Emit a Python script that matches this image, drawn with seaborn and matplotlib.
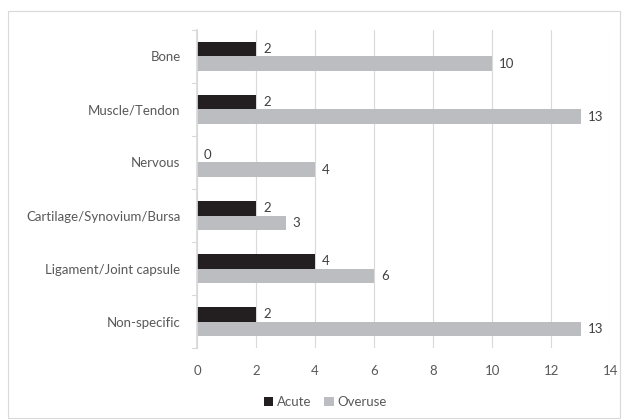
import numpy as np
import pandas as pd
import matplotlib
matplotlib.use("Agg")
import matplotlib.pyplot as plt
from matplotlib.patches import Rectangle
import seaborn as sns

categories = ["Bone", "Muscle/Tendon", "Nervous", "Cartilage/Synovium/Bursa",
              "Ligament/Joint capsule", "Non-specific"]
acute = [2, 2, 0, 2, 4, 2]
overuse = [10, 13, 4, 3, 6, 13]
series = ["Acute", "Overuse"]
colors = ["#231f20", "#bcbdc0"]

df = pd.DataFrame({
    "category": categories * 2,
    "value": acute + overuse,
    "type": ["Acute"] * len(categories) + ["Overuse"] * len(categories),
})

sns.set_theme(style="white")
plt.rcParams["font.family"] = ["Lato", "DejaVu Sans"]

fig = plt.figure(figsize=(6.22, 4.2), dpi=100)
ax = fig.add_axes([0.317, 0.171, 0.664, 0.758])

sns.barplot(data=df, y="category", x="value", hue="type", order=categories,
            hue_order=series, palette=colors, orient="h", width=0.54,
            saturation=1, linewidth=0, ax=ax, legend=True)

for cont in ax.containers:
    ax.bar_label(cont, padding=5, fontsize=9.5, color="#404040")

ax.set_xlim(0, 14)
ax.set_xticks(np.arange(0, 15, 2))
ax.set_ylim(len(categories) - 0.5, -0.5)
ax.set_xlabel("")
ax.set_ylabel("")
ax.grid(axis="x", color="#d9d9d9", linewidth=0.8)
ax.set_axisbelow(True)
for s in ["top", "right", "bottom"]:
    ax.spines[s].set_visible(False)
ax.spines["left"].set_color("#d9d9d9")
ax.tick_params(axis="x", length=0, labelsize=9.5, labelcolor="#595959", pad=12)
ax.tick_params(axis="y", length=0, labelsize=9.5, labelcolor="#595959", pad=12)

# Excel-style ticks on the category axis between groups
for b in np.arange(-0.5, len(categories), 1.0):
    ax.plot([-0.012, 0], [b, b], color="#d9d9d9", lw=0.8, clip_on=False,
            transform=ax.get_yaxis_transform())

ax.legend(loc="center", bbox_to_anchor=(0.523, 0.043), bbox_transform=fig.transFigure,
          ncol=2, frameon=False, fontsize=9.5, handlelength=0.75, handleheight=0.75,
          handletextpad=0.25, columnspacing=1.0, labelcolor="#595959")

fig.patches.append(Rectangle((0.013, 0.005), 0.984, 0.97, transform=fig.transFigure,
                             fill=False, edgecolor="#d9d9d9", lw=0.8))

fig.savefig("out.png", dpi=100)
